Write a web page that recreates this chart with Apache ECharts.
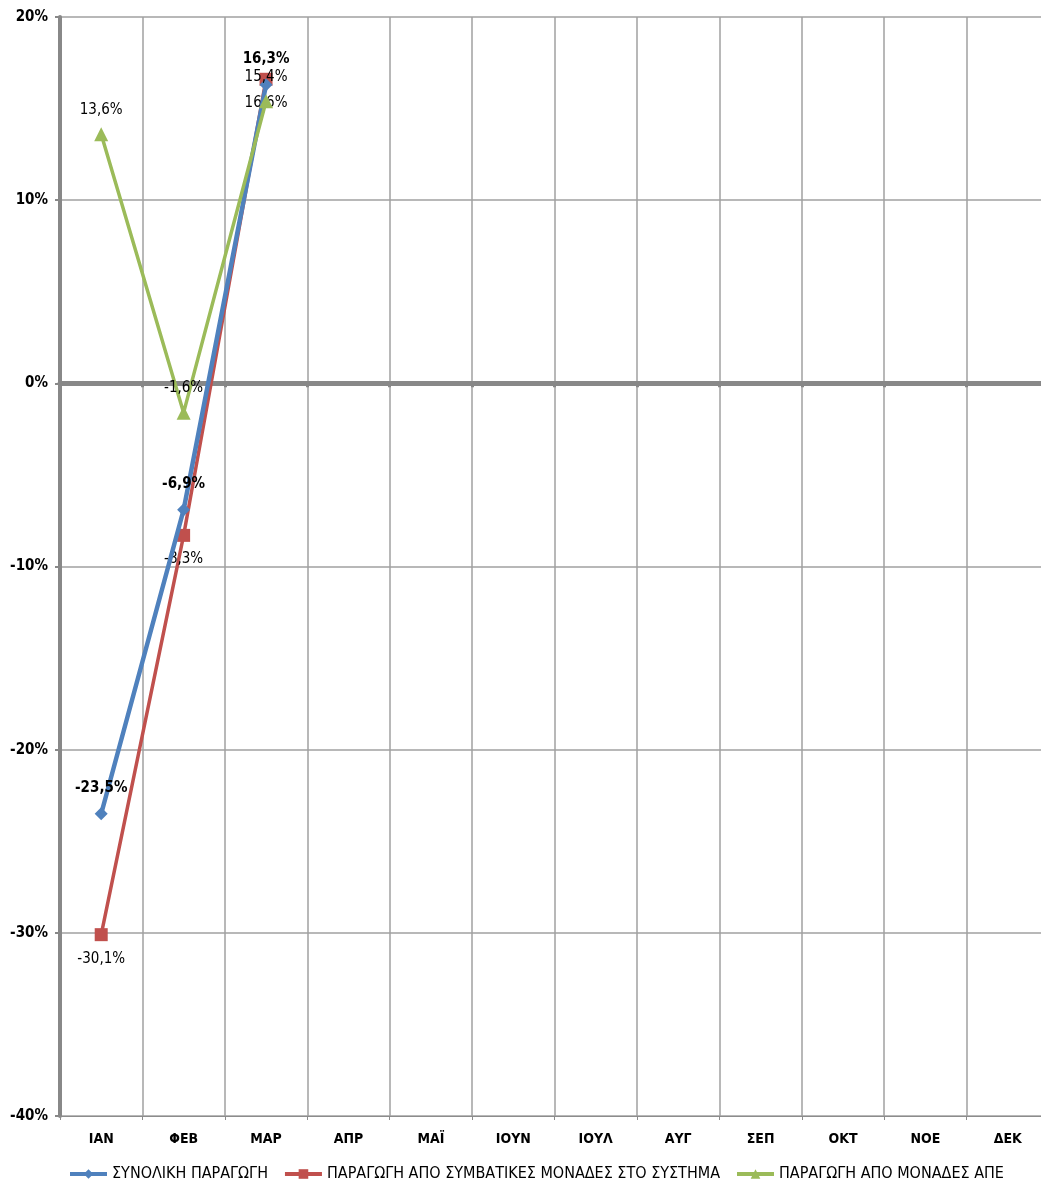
<!DOCTYPE html>
<html><head><meta charset="utf-8">
<script src="https://cdn.jsdelivr.net/npm/echarts@6/dist/echarts.min.js"></script>
<style>html,body{margin:0;padding:0;background:#fff;overflow:hidden;width:1041px;height:1182px}#c{width:1049px;height:1182px}</style>
</head><body><div id="c"></div>
<script>
var months = ['ΙΑΝ','ΦΕΒ','ΜΑΡ','ΑΠΡ','ΜΑΪ','ΙΟΥΝ','ΙΟΥΛ','ΑΥΓ','ΣΕΠ','ΟΚΤ','ΝΟΕ','ΔΕΚ'];
var totalProd = [-23.5, -6.9, 16.3, null, null, null, null, null, null, null, null, null];
var conventionalProd = [-30.1, -8.3, 16.6, null, null, null, null, null, null, null, null, null];
var resProd = [13.6, -1.6, 15.4, null, null, null, null, null, null, null, null, null];
var seriesNames = ['ΣΥΝΟΛΙΚΗ ΠΑΡΑΓΩΓΗ','ΠΑΡΑΓΩΓΗ ΑΠΟ ΣΥΜΒΑΤΙΚΕΣ ΜΟΝΑΔΕΣ ΣΤΟ ΣΥΣΤΗΜΑ','ΠΑΡΑΓΩΓΗ ΑΠΟ ΜΟΝΑΔΕΣ ΑΠΕ'];
var yTicks = {min: -40, max: 20, interval: 10};

var FONT = '"Liberation Sans Narrow","DejaVu Sans Condensed","Liberation Sans",sans-serif';
function pct(v){ return String(v).replace('.', ',') + '%'; }
function lbl(p){ return pct(p.value); }

var chart = echarts.init(document.getElementById('c'));
chart.setOption({
  animation: false,
  textStyle: {fontFamily: FONT},
  grid: {left: 60, right: 0, top: 17, bottom: 66, containLabel: false},
  legend: {
    top: 1161, left: 63, itemWidth: 37, itemHeight: 12, itemGap: 15,
    textStyle: {fontFamily: FONT, fontSize: 16, color: '#000'},
    lineStyle: {width: 4},
    data: seriesNames
  },
  xAxis: [{
    type: 'category', data: months, boundaryGap: true, position: 'bottom',
    axisLine: {show: true, onZero: false, lineStyle: {color: '#8c8c8c', width: 1}},
    axisTick: {show: true, length: 4, lineStyle: {color: '#8c8c8c', width: 1}},
    axisLabel: {fontFamily: FONT, fontWeight: 'bold', fontSize: 14, color: '#000', margin: 16},
    splitLine: {show: true, lineStyle: {color: '#a0a0a0', width: 1.5}}
  }, {
    type: 'category', data: months, boundaryGap: true, position: 'bottom',
    axisLine: {show: true, onZero: true, lineStyle: {color: '#888', width: 5}},
    axisTick: {show: true, inside: false, length: 4, lineStyle: {color: '#888', width: 3}},
    axisLabel: {show: false}, splitLine: {show: false}
  }],
  yAxis: {
    type: 'value', min: yTicks.min, max: yTicks.max, interval: yTicks.interval,
    axisLine: {show: true, lineStyle: {color: '#888', width: 4}},
    axisTick: {show: true, length: 5, lineStyle: {color: '#888', width: 2}},
    axisLabel: {fontFamily: FONT, fontWeight: 'bold', fontSize: 15, color: '#000', margin: 12,
      formatter: function(v){ return v + '%'; }},
    splitLine: {show: true, lineStyle: {color: '#a0a0a0', width: 1.5}}
  },
  series: [{
    name: seriesNames[0], type: 'line', data: totalProd, xAxisIndex: 0,
    symbol: 'diamond', symbolSize: 13,
    lineStyle: {color: '#4F81BD', width: 4.5}, itemStyle: {color: '#4F81BD'},
    label: {show: true, position: 'top', distance: 12, formatter: lbl,
      fontFamily: FONT, fontWeight: 'bold', fontSize: 15, color: '#000'},
    z: 3
  }, {
    name: seriesNames[1], type: 'line', data: conventionalProd, xAxisIndex: 0,
    symbol: 'rect', symbolSize: 13,
    lineStyle: {color: '#C0504D', width: 3.5}, itemStyle: {color: '#C0504D'},
    label: {show: true, position: 'bottom', distance: 10, formatter: lbl,
      fontFamily: FONT, fontSize: 15, color: '#000'},
    z: 2
  }, {
    name: seriesNames[2], type: 'line', data: resProd, xAxisIndex: 0,
    symbol: 'triangle', symbolSize: 14,
    lineStyle: {color: '#9BBB59', width: 3.5}, itemStyle: {color: '#9BBB59'},
    label: {show: true, position: 'top', distance: 10, formatter: lbl,
      fontFamily: FONT, fontSize: 15, color: '#000'},
    z: 4
  }]
});
</script></body></html>
